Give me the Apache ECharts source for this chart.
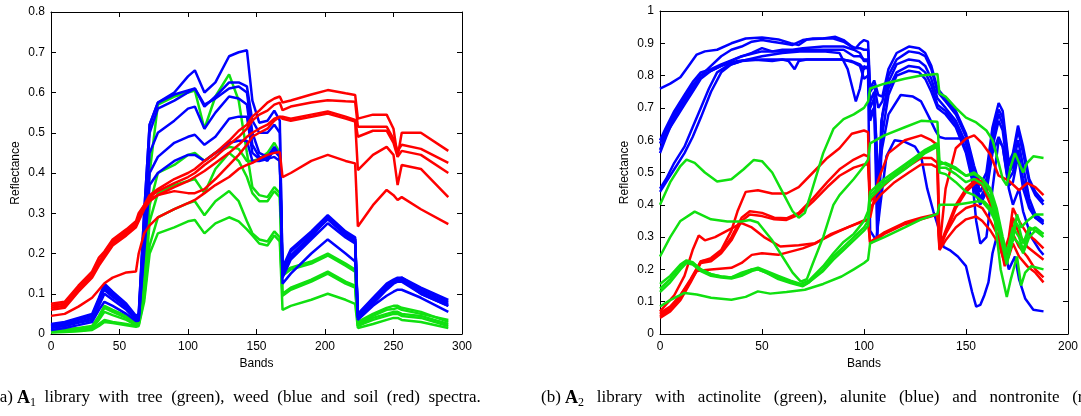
<!DOCTYPE html>
<html>
<head>
<meta charset="utf-8">
<script src="https://cdn.jsdelivr.net/npm/echarts@6/dist/echarts.min.js"></script>
<style>
html,body{margin:0;padding:0;background:#fff;}
#chart{width:1081px;height:416px;}
</style>
</head>
<body>
<div id="chart"></div>
<script>
// ---------------- (a) A1 library: bands shared by all spectra ----------------
const LB = [0,10,20,30,35,39,45,55,62,64,68,72,78,90,100,105,112,120,130,137,143,147,152,158,163,167,169,175,190,202,215,222,224,235,245,250,253,256,270,290];

// tree (green)
const tree1 = [0.01,0.012,0.015,0.02,0.045,0.07,0.06,0.045,0.03, 0.03,0.15,0.40,0.57,0.59,0.60,0.605,0.51,0.59,0.645,0.58,0.45,0.365,0.345,0.34,0.365,0.35, 0.15,0.165,0.18,0.20,0.175,0.16, 0.03,0.05,0.065,0.07,0.07,0.065,0.055,0.03];
const tree2 = [0.008,0.01,0.013,0.018,0.04,0.065,0.055,0.04,0.025, 0.028,0.12,0.32,0.40,0.42,0.445,0.45,0.43,0.45,0.465,0.46,0.43,0.43,0.435,0.45,0.475,0.45, 0.145,0.16,0.175,0.195,0.17,0.155, 0.025,0.045,0.06,0.062,0.065,0.06,0.05,0.035];
const tree3 = [0.006,0.008,0.01,0.015,0.035,0.055,0.047,0.035,0.022, 0.025,0.10,0.28,0.35,0.37,0.38,0.385,0.35,0.41,0.45,0.43,0.39,0.35,0.33,0.33,0.355,0.34, 0.10,0.115,0.135,0.155,0.13,0.12, 0.02,0.04,0.05,0.055,0.055,0.05,0.045,0.025];
const tree4 = [0.005,0.006,0.008,0.012,0.025,0.035,0.03,0.025,0.02, 0.022,0.09,0.22,0.29,0.31,0.325,0.33,0.295,0.33,0.355,0.33,0.28,0.25,0.235,0.23,0.255,0.24, 0.095,0.11,0.13,0.15,0.125,0.115, 0.02,0.035,0.045,0.05,0.05,0.045,0.04,0.02];
const tree5 = [0.004,0.005,0.007,0.01,0.02,0.03,0.027,0.022,0.018, 0.02,0.08,0.20,0.25,0.265,0.28,0.283,0.25,0.275,0.29,0.28,0.26,0.245,0.225,0.22,0.245,0.23, 0.06,0.07,0.085,0.10,0.085,0.075, 0.015,0.025,0.035,0.04,0.04,0.035,0.03,0.015];

// weed (blue)
const weed1 = [0.025,0.03,0.04,0.05,0.09,0.125,0.105,0.075,0.045, 0.05,0.30,0.52,0.575,0.60,0.64,0.655,0.60,0.625,0.69,0.70,0.705,0.58,0.525,0.53,0.555,0.53, 0.165,0.21,0.255,0.295,0.255,0.24, 0.05,0.09,0.125,0.135,0.14,0.14,0.115,0.085];
const weed2 = [0.02,0.025,0.035,0.045,0.085,0.12,0.10,0.07,0.04, 0.045,0.30,0.52,0.575,0.595,0.605,0.61,0.565,0.59,0.625,0.625,0.615,0.53,0.50,0.50,0.52,0.50, 0.16,0.205,0.25,0.29,0.25,0.235, 0.045,0.085,0.12,0.13,0.135,0.14,0.11,0.08];
const weed3 = [0.018,0.022,0.03,0.04,0.08,0.115,0.095,0.065,0.04, 0.04,0.25,0.45,0.50,0.53,0.56,0.565,0.51,0.55,0.59,0.585,0.57,0.47,0.44,0.43,0.46,0.44, 0.15,0.195,0.245,0.285,0.245,0.23, 0.04,0.08,0.115,0.13,0.135,0.135,0.10,0.07];
const weed4 = [0.015,0.02,0.028,0.035,0.07,0.10,0.085,0.06,0.035, 0.035,0.22,0.40,0.44,0.475,0.49,0.495,0.47,0.49,0.535,0.54,0.54,0.45,0.435,0.44,0.465,0.445, 0.14,0.185,0.235,0.275,0.24,0.225, 0.04,0.075,0.11,0.125,0.13,0.13,0.10,0.07];
const weed5 = [0.01,0.015,0.022,0.03,0.06,0.08,0.07,0.05,0.032, 0.033,0.20,0.37,0.40,0.43,0.445,0.445,0.43,0.45,0.475,0.48,0.48,0.43,0.43,0.435,0.44,0.43, 0.125,0.15,0.20,0.235,0.20,0.18, 0.035,0.07,0.095,0.105,0.11,0.11,0.09,0.055];
const weed6 = [0.022,0.027,0.036,0.046,0.085,0.11,0.092,0.068,0.038, 0.04,0.28,0.50,0.56,0.58,0.60,0.61,0.57,0.585,0.61,0.615,0.60,0.50,0.45,0.44,0.455,0.44, 0.145,0.19,0.24,0.29,0.25,0.235, 0.042,0.08,0.12,0.13,0.138,0.138,0.105,0.075];

// soil (red)
const soil1 = [0.075,0.08,0.12,0.155,0.19,0.205,0.235,0.26,0.28, 0.30,0.32,0.345,0.36,0.385,0.40,0.41,0.43,0.45,0.48,0.505,0.52,0.54,0.555,0.575,0.585,0.59, 0.575,0.58,0.595,0.606,0.598,0.594, 0.535,0.545,0.545,0.51,0.44,0.50,0.50,0.455];
const soil2 = [0.07,0.075,0.115,0.15,0.18,0.20,0.23,0.255,0.275, 0.29,0.32,0.34,0.355,0.375,0.39,0.40,0.42,0.44,0.47,0.49,0.51,0.53,0.545,0.555,0.57,0.575, 0.556,0.565,0.575,0.581,0.578,0.577, 0.515,0.515,0.515,0.485,0.455,0.47,0.46,0.425];
const soil3 = [0.065,0.07,0.11,0.145,0.175,0.195,0.225,0.25,0.27, 0.285,0.315,0.335,0.345,0.365,0.38,0.39,0.405,0.425,0.45,0.47,0.49,0.50,0.51,0.52,0.535,0.54, 0.54,0.535,0.545,0.553,0.54,0.532, 0.49,0.505,0.505,0.475,0.44,0.455,0.445,0.40];
const soil4 = [0.06,0.065,0.105,0.14,0.17,0.19,0.22,0.245,0.265, 0.28,0.31,0.33,0.345,0.355,0.35,0.35,0.36,0.385,0.42,0.445,0.47,0.49,0.50,0.51,0.53,0.54, 0.535,0.53,0.54,0.548,0.535,0.528, 0.407,0.445,0.465,0.445,0.37,0.42,0.41,0.34];
const soil5 = [0.045,0.05,0.068,0.09,0.11,0.126,0.14,0.153,0.155, 0.20,0.25,0.27,0.29,0.31,0.325,0.333,0.35,0.37,0.39,0.41,0.42,0.425,0.435,0.445,0.45,0.452, 0.39,0.40,0.43,0.445,0.43,0.424, 0.267,0.32,0.358,0.345,0.333,0.34,0.31,0.273];

// ---------------- (b) A2 library: [band, reflectance] ----------------
// actinolite (green)
const actin1 = [[0,0.40],[5,0.47],[10,0.52],[13,0.54],[17,0.53],[22,0.50],[28,0.472],[35,0.479],[41,0.51],[46,0.539],[50,0.535],[55,0.50],[60,0.44],[65,0.38],[68,0.36],[71,0.375],[74,0.435],[80,0.56],[85,0.635],[90,0.665],[95,0.68],[100,0.70],[102,0.72],[103,0.76],[110,0.775],[120,0.79],[128,0.80],[136,0.805],[137,0.745],[140,0.735],[145,0.70],[150,0.67],[155,0.655],[160,0.63],[163,0.60],[166,0.53],[168,0.48],[170,0.46],[172,0.52],[174,0.56],[176,0.53],[178,0.50],[180,0.53],[183,0.55],[188,0.545]];
const actin2 = [[0,0.24],[5,0.30],[10,0.35],[17,0.379],[25,0.355],[33,0.348],[40,0.348],[44,0.353],[48,0.345],[55,0.29],[60,0.24],[65,0.19],[69,0.162],[72,0.17],[75,0.22],[80,0.30],[85,0.40],[88,0.43],[95,0.48],[100,0.52],[102,0.54],[103,0.59],[110,0.615],[120,0.64],[128,0.66],[136,0.657],[137,0.535],[140,0.525],[145,0.51],[150,0.49],[154,0.50],[158,0.48],[162,0.44],[165,0.37],[168,0.28],[170,0.22],[172,0.27],[174,0.35],[176,0.33],[178,0.28],[181,0.33],[184,0.32],[188,0.31]];
const actin3 = [[0,0.155],[5,0.18],[10,0.215],[13,0.228],[16,0.222],[20,0.20],[25,0.185],[30,0.178],[35,0.175],[40,0.185],[45,0.2],[48,0.205],[52,0.195],[58,0.18],[64,0.165],[69,0.155],[73,0.165],[80,0.21],[85,0.25],[90,0.285],[95,0.31],[100,0.35],[102,0.38],[103,0.44],[110,0.48],[120,0.525],[130,0.57],[136,0.59],[137,0.525],[140,0.53],[145,0.515],[150,0.49],[154,0.495],[158,0.48],[162,0.45],[165,0.39],[168,0.30],[170,0.25],[173,0.33],[176,0.30],[178,0.26],[181,0.32],[184,0.33],[188,0.31]];
const actin4 = [[0,0.14],[5,0.17],[10,0.21],[13,0.225],[16,0.22],[20,0.20],[25,0.185],[30,0.178],[35,0.175],[40,0.19],[45,0.2],[48,0.2],[52,0.19],[58,0.175],[64,0.16],[70,0.15],[73,0.16],[80,0.2],[85,0.24],[90,0.27],[95,0.3],[100,0.33],[102,0.35],[103,0.42],[110,0.465],[120,0.51],[130,0.56],[136,0.58],[137,0.515],[140,0.515],[145,0.495],[150,0.47],[154,0.48],[158,0.465],[162,0.42],[165,0.35],[168,0.27],[170,0.215],[173,0.30],[176,0.28],[178,0.25],[181,0.30],[184,0.32],[188,0.30]];
const actin5 = [[0,0.13],[5,0.16],[10,0.2],[13,0.22],[16,0.215],[20,0.195],[25,0.18],[30,0.175],[35,0.172],[40,0.18],[45,0.195],[48,0.2],[52,0.19],[58,0.17],[64,0.158],[70,0.148],[73,0.16],[80,0.195],[85,0.23],[90,0.26],[95,0.29],[100,0.32],[102,0.335],[103,0.43],[110,0.47],[120,0.52],[130,0.565],[136,0.585],[137,0.50],[140,0.495],[145,0.47],[150,0.44],[154,0.43],[158,0.41],[162,0.38],[165,0.34],[168,0.29],[170,0.23],[173,0.29],[175,0.37],[177,0.33],[180,0.35],[184,0.37],[188,0.37]];
const actin6 = [[0,0.085],[5,0.105],[12,0.127],[18,0.122],[25,0.112],[35,0.106],[42,0.115],[48,0.132],[54,0.125],[62,0.13],[71,0.137],[80,0.155],[89,0.178],[95,0.2],[100,0.22],[102,0.23],[103,0.281],[110,0.30],[120,0.33],[128,0.355],[136,0.372],[137,0.40],[145,0.40],[150,0.405],[155,0.41],[159,0.41],[162,0.39],[164,0.36],[167,0.20],[170,0.115],[172,0.17],[175,0.24],[177,0.15],[179,0.19],[182,0.21],[188,0.20]];

// alunite (blue)
const alun1 = [[0,0.76],[5,0.775],[10,0.795],[14,0.83],[18,0.865],[22,0.875],[28,0.88],[35,0.90],[42,0.915],[50,0.918],[58,0.912],[64,0.90],[68,0.895],[72,0.912],[80,0.915],[86,0.92],[90,0.91],[94,0.89],[96,0.885],[98,0.90],[100,0.91],[102,0.905],[103,0.76],[105,0.785],[107,0.74],[109,0.735],[112,0.82],[116,0.87],[122,0.89],[127,0.885],[130,0.87],[133,0.83],[136,0.76],[140,0.73],[145,0.69],[150,0.62],[154,0.52],[157,0.46],[160,0.50],[163,0.64],[166,0.715],[168,0.69],[171,0.53],[173,0.56],[175.5,0.645],[178,0.58],[181,0.48],[184,0.44],[188,0.41]];
const alun2 = [[0,0.60],[3,0.64],[7,0.69],[12,0.74],[16,0.78],[20,0.81],[25,0.82],[30,0.835],[38,0.855],[45,0.87],[50,0.885],[55,0.875],[60,0.88],[65,0.88],[70,0.885],[80,0.89],[90,0.89],[95,0.88],[98,0.87],[100,0.845],[102,0.845],[103,0.72],[105,0.75],[107,0.45],[109,0.68],[112,0.78],[116,0.835],[122,0.85],[127,0.845],[130,0.83],[133,0.79],[136,0.73],[140,0.70],[145,0.66],[150,0.59],[154,0.48],[157,0.42],[160,0.46],[163,0.60],[166,0.68],[168,0.65],[171,0.50],[173,0.52],[175.5,0.60],[178,0.52],[181,0.42],[184,0.37],[188,0.35]];
const alun3 = [[0,0.57],[3,0.62],[7,0.66],[12,0.71],[16,0.75],[20,0.79],[25,0.815],[30,0.83],[38,0.845],[45,0.85],[55,0.845],[60,0.85],[63,0.845],[66,0.82],[68,0.845],[72,0.85],[80,0.85],[88,0.85],[94,0.845],[98,0.835],[100,0.82],[102,0.83],[103,0.70],[105,0.73],[106.5,0.29],[108.5,0.66],[112,0.76],[116,0.81],[122,0.83],[127,0.825],[130,0.81],[133,0.77],[136,0.71],[140,0.69],[145,0.65],[150,0.57],[154,0.46],[157,0.41],[160,0.45],[163,0.58],[166,0.66],[168,0.63],[171,0.48],[173,0.50],[175.5,0.57],[178,0.48],[181,0.40],[184,0.36],[188,0.34]];
const alun4 = [[0,0.45],[3,0.48],[7,0.53],[12,0.58],[16,0.64],[20,0.70],[24,0.76],[28,0.81],[33,0.83],[40,0.845],[50,0.86],[60,0.87],[70,0.875],[80,0.875],[88,0.87],[92,0.82],[94,0.77],[96,0.72],[98,0.76],[100,0.83],[102,0.82],[103,0.68],[105,0.70],[107,0.35],[109,0.62],[112,0.74],[116,0.80],[122,0.815],[127,0.81],[130,0.79],[133,0.75],[136,0.70],[140,0.68],[145,0.64],[150,0.56],[154,0.45],[157,0.40],[160,0.44],[163,0.56],[166,0.61],[168,0.58],[171,0.46],[173,0.47],[175.5,0.55],[178,0.45],[181,0.39],[184,0.36],[188,0.345]];
const alun5 = [[0,0.44],[3,0.47],[7,0.51],[12,0.56],[16,0.61],[20,0.67],[25,0.75],[30,0.81],[35,0.835],[40,0.845],[50,0.85],[60,0.85],[70,0.85],[80,0.85],[90,0.85],[95,0.84],[98,0.83],[100,0.79],[102,0.80],[103,0.32],[106,0.29],[108,0.40],[111,0.55],[115,0.60],[120,0.595],[125,0.58],[128,0.55],[131,0.45],[134,0.38],[137,0.32],[139,0.27],[142,0.26],[146,0.24],[150,0.21],[153,0.13],[155,0.085],[157,0.09],[159,0.12],[161,0.16],[163,0.25],[165,0.30],[168,0.28],[171,0.20],[174,0.24],[176,0.17],[179,0.11],[183,0.075],[188,0.07]];
const alun6 = [[0,0.59],[3,0.63],[7,0.68],[12,0.73],[16,0.77],[20,0.80],[25,0.815],[30,0.83],[40,0.86],[50,0.875],[60,0.875],[70,0.88],[80,0.88],[90,0.88],[95,0.86],[98,0.86],[100,0.85],[102,0.85],[103,0.66],[105,0.70],[107,0.50],[109,0.58],[112,0.68],[118,0.74],[124,0.735],[128,0.72],[132,0.67],[135,0.63],[137,0.61],[140,0.605],[145,0.605],[150,0.605],[152,0.55],[155,0.35],[157,0.28],[160,0.30],[163,0.45],[166,0.60],[168,0.58],[171,0.45],[173,0.40],[176,0.45],[178,0.38],[182,0.30],[186,0.26],[188,0.245]];
const alun7 = [[0,0.56],[3,0.61],[7,0.67],[12,0.72],[15,0.75],[20,0.80],[25,0.83],[30,0.86],[35,0.88],[40,0.89],[45,0.905],[50,0.91],[55,0.905],[60,0.90],[65,0.895],[70,0.91],[75,0.915],[80,0.915],[85,0.915],[90,0.905],[95,0.885],[98,0.885],[100,0.88],[102,0.88],[103,0.75],[105,0.77],[107,0.70],[109,0.72],[112,0.80],[116,0.85],[122,0.875],[127,0.87],[130,0.86],[133,0.82],[136,0.75],[140,0.72],[145,0.68],[150,0.61],[154,0.50],[157,0.44],[160,0.48],[163,0.62],[166,0.695],[168,0.67],[171,0.52],[173,0.55],[175.5,0.63],[178,0.56],[181,0.47],[184,0.43],[188,0.40]];

// nontronite (red)
const nont1 = [[0,0.06],[5,0.08],[10,0.12],[15,0.17],[20,0.225],[25,0.235],[30,0.26],[35,0.32],[38,0.38],[42,0.44],[48,0.445],[55,0.435],[62,0.435],[68,0.455],[75,0.50],[82,0.545],[88,0.575],[94,0.62],[100,0.63],[102,0.625],[103,0.36],[107,0.477],[112,0.56],[120,0.60],[128,0.615],[133,0.60],[136,0.585],[137,0.265],[140,0.45],[145,0.575],[150,0.605],[154,0.615],[158,0.59],[162,0.555],[166,0.49],[171,0.475],[176,0.445],[180,0.467],[184,0.455],[188,0.43]];
const nont2 = [[0,0.055],[5,0.075],[10,0.115],[15,0.165],[20,0.225],[25,0.23],[30,0.255],[35,0.30],[40,0.36],[44,0.38],[50,0.375],[56,0.36],[62,0.358],[68,0.375],[75,0.42],[82,0.47],[88,0.51],[95,0.54],[100,0.555],[102,0.55],[103,0.41],[108,0.45],[115,0.49],[122,0.52],[128,0.545],[133,0.545],[136,0.53],[137,0.27],[140,0.32],[145,0.40],[150,0.45],[155,0.48],[158,0.47],[162,0.42],[166,0.34],[169,0.26],[171,0.30],[173,0.39],[176,0.35],[180,0.31],[184,0.29],[188,0.265]];
const nont3 = [[0,0.05],[5,0.07],[10,0.105],[15,0.16],[20,0.22],[25,0.225],[30,0.25],[35,0.29],[40,0.35],[44,0.37],[50,0.365],[56,0.355],[62,0.353],[68,0.37],[75,0.41],[82,0.455],[88,0.49],[95,0.515],[100,0.525],[102,0.525],[103,0.39],[108,0.43],[115,0.47],[122,0.50],[128,0.525],[133,0.525],[136,0.515],[137,0.265],[140,0.31],[145,0.39],[150,0.44],[155,0.47],[158,0.46],[162,0.40],[166,0.32],[169,0.24],[171,0.27],[173,0.36],[176,0.31],[180,0.27],[184,0.25],[188,0.23]];
const nont4 = [[0,0.07],[7,0.12],[12,0.18],[16,0.26],[19,0.305],[22,0.29],[27,0.30],[33,0.32],[40,0.343],[45,0.33],[51,0.30],[59,0.271],[68,0.275],[76,0.281],[85,0.31],[92,0.33],[100,0.352],[102,0.355],[103,0.28],[110,0.31],[120,0.34],[128,0.355],[136,0.37],[137,0.26],[140,0.29],[145,0.33],[150,0.355],[155,0.364],[158,0.35],[162,0.32],[166,0.28],[169,0.22],[171,0.24],[173,0.28],[176,0.24],[180,0.21],[184,0.19],[188,0.16]];
const nont5 = [[0,0.065],[5,0.085],[10,0.12],[15,0.165],[18,0.195],[25,0.20],[35,0.205],[40,0.22],[45,0.245],[50,0.25],[58,0.245],[64,0.255],[70,0.265],[76,0.28],[84,0.31],[92,0.33],[98,0.345],[100,0.35],[102,0.352],[103,0.285],[110,0.315],[120,0.345],[128,0.36],[136,0.372],[137,0.27],[140,0.31],[145,0.365],[150,0.39],[155,0.40],[158,0.39],[162,0.35],[166,0.30],[169,0.21],[171,0.26],[173,0.31],[176,0.27],[180,0.24],[184,0.20],[188,0.175]];

// tick labels / captions
const TICKS_A_X = {min:0, max:300, interval:50};
const TICKS_A_Y = {min:0, max:0.8, interval:0.1};
const TICKS_B_X = {min:0, max:200, interval:50};
const TICKS_B_Y = {min:0, max:1, interval:0.1};
const CAPTION_A = '(a) {b|A}{s|1}  library  with  tree  (green),  weed  (blue  and  soil  (red)  spectra.';
const CAPTION_B = '(b) {b|A}{s|2}   library   with   actinolite   (green),   alunite   (blue)   and   nontronite   (red)   spectra.';

const GREEN = '#10e010', BLUE = '#0000ff', RED = '#ff0000';

function zipBands(vals){ return vals.map((v,i)=>[LB[i], v]); }
function line(data, color, idx){
  return {type:'line', xAxisIndex: idx, yAxisIndex: idx, data: data, symbol:'none', showSymbol:false,
    lineStyle:{color:color, width:2.5}, itemStyle:{color:color}, silent:true, animation:false, z:2};
}

const FONT = 'Liberation Sans, Arial, sans-serif';
function yFmt(v){ if (Math.abs(v) < 1e-9) return '0'; if (Math.abs(v-1) < 1e-9) return '1'; return v.toFixed(1); }
function axis(o){
  return Object.assign({
    type:'value',
    axisLine:{show:true, onZero:false, lineStyle:{color:'#000', width:1}},
    axisTick:{show:true, inside:true, length:5, lineStyle:{color:'#000', width:1}},
    splitLine:{show:false},
    axisLabel:{show:true, color:'#000', fontSize:12, fontFamily:FONT, margin:7},
    nameTextStyle:{color:'#000', fontSize:12, fontFamily:FONT}
  }, o);
}

const series = [];
[tree1,tree2,tree3,tree4,tree5].forEach(v=>series.push(line(zipBands(v), GREEN, 0)));
[weed1,weed2,weed3,weed4,weed5,weed6].forEach(v=>series.push(line(zipBands(v), BLUE, 0)));
[soil1,soil2,soil3,soil4,soil5].forEach(v=>series.push(line(zipBands(v), RED, 0)));
[alun1,alun2,alun3,alun4,alun5,alun6,alun7].forEach(v=>series.push(line(v, BLUE, 1)));
[nont1,nont2,nont3,nont4,nont5].forEach(v=>series.push(line(v, RED, 1)));
[actin1,actin2,actin3,actin4,actin5,actin6].forEach(v=>series.push(line(v, GREEN, 1)));

const capRich = {
  b:{fontSize:18, fontWeight:'bold', fontFamily:'Liberation Serif, serif'},
  s:{fontSize:12, fontFamily:'Liberation Serif, serif', padding:[9,0,0,0]}
};

const chart = echarts.init(document.getElementById('chart'), null, {renderer:'canvas'});
chart.setOption({
  backgroundColor:'#fff',
  animation:false,
  grid:[
    {left:51, top:12, width:411, height:322},
    {left:660, top:11, width:410, height:323}
  ],
  xAxis:[
    axis(Object.assign({gridIndex:0, position:'bottom', name:'Bands', nameLocation:'middle', nameGap:21}, TICKS_A_X)),
    axis(Object.assign({gridIndex:1, position:'bottom', name:'Bands', nameLocation:'middle', nameGap:21}, TICKS_B_X)),
    axis(Object.assign({gridIndex:0, position:'top', axisLabel:{show:false}}, TICKS_A_X)),
    axis(Object.assign({gridIndex:1, position:'top', axisLabel:{show:false}}, TICKS_B_X))
  ],
  yAxis:[
    axis(Object.assign({gridIndex:0, position:'left', name:'Reflectance', nameLocation:'middle', nameGap:29, nameRotate:90,
      axisLabel:{show:true, color:'#000', fontSize:12, fontFamily:FONT, margin:6, formatter:yFmt}}, TICKS_A_Y)),
    axis(Object.assign({gridIndex:1, position:'left', name:'Reflectance', nameLocation:'middle', nameGap:29, nameRotate:90,
      axisLabel:{show:true, color:'#000', fontSize:12, fontFamily:FONT, margin:6, formatter:yFmt}}, TICKS_B_Y)),
    axis(Object.assign({gridIndex:0, position:'right', axisLabel:{show:false}}, TICKS_A_Y)),
    axis(Object.assign({gridIndex:1, position:'right', axisLabel:{show:false}}, TICKS_B_Y))
  ],
  series: series,
  graphic:[
    {type:'text', left:-6, top:389, silent:true, style:{text:CAPTION_A, fill:'#000', fontSize:17, fontFamily:'Liberation Serif, serif', rich:capRich}},
    {type:'text', left:541, top:389, silent:true, style:{text:CAPTION_B, fill:'#000', fontSize:17, fontFamily:'Liberation Serif, serif', rich:capRich}}
  ]
});
</script>
</body>
</html>
